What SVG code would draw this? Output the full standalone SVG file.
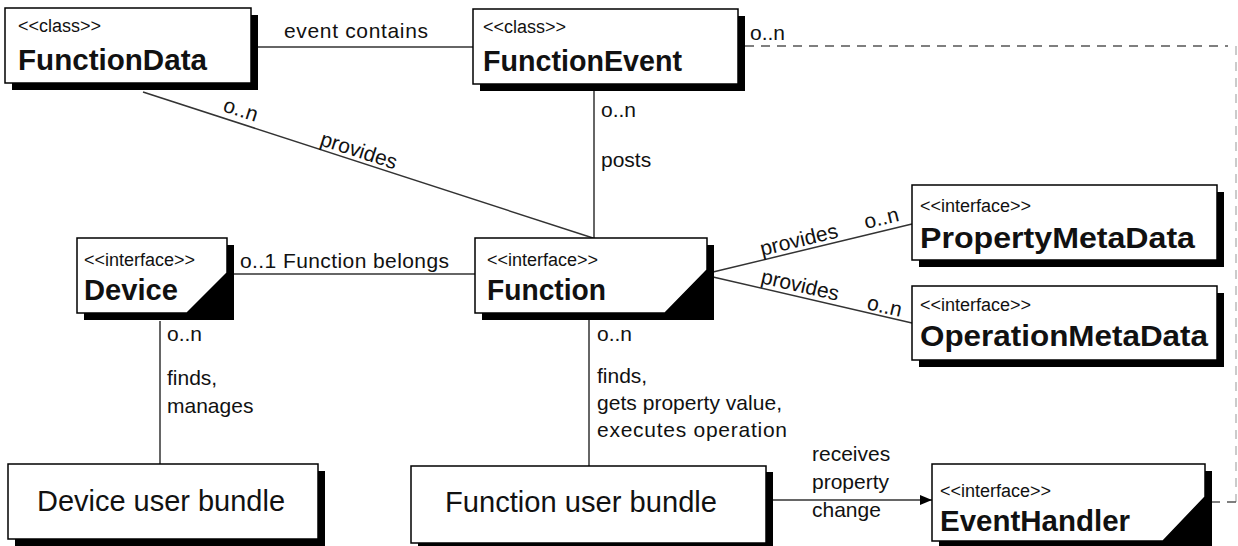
<svg xmlns="http://www.w3.org/2000/svg" width="1238" height="546" viewBox="0 0 1238 546">
<style>
text{font-family:"Liberation Sans",Arial,sans-serif;fill:#111}
.st{font-size:18px}
.nm{font-size:30px;font-weight:bold}
.lb{font-size:21px}
.bd{font-size:30px}
.sh{fill:#000}
.bx{fill:#fff;stroke:#000;stroke-width:1.5}
.ln{stroke:#333;stroke-width:1.5;fill:none}
.ds{stroke:#555;stroke-width:1.5;fill:none;stroke-dasharray:9,7}
.dl{stroke:#bbb;stroke-width:1.5;fill:none;stroke-dasharray:9,7}
</style>
<defs>
<marker id="arr" viewBox="0 0 12 10" refX="12" refY="5" markerWidth="12" markerHeight="10" markerUnits="userSpaceOnUse" orient="auto">
<path d="M0,0 L12,5 L0,10 Z" fill="#000"/>
</marker>
</defs>
<g id="connectors">
<line class="ln" x1="257" y1="47" x2="474" y2="47"/>
<line class="ln" x1="143" y1="92" x2="593" y2="238"/>
<line class="ln" x1="594" y1="91" x2="594" y2="238"/>
<line class="ln" x1="234" y1="274" x2="475" y2="274"/>
<line class="ln" x1="713" y1="272" x2="912" y2="224"/>
<line class="ln" x1="713" y1="277" x2="912" y2="323"/>
<line class="ln" x1="160" y1="321" x2="160" y2="464"/>
<line class="ln" x1="589" y1="320" x2="589" y2="466"/>
<line class="ln" x1="773" y1="500" x2="932" y2="500" marker-end="url(#arr)"/>
<path class="ds" d="M745,46 H1228"/>
<path class="dl" d="M1236,46 V502"/>
<path class="ds" d="M1236,502 H1212"/>
<text class="lb" x="284" y="38" textLength="144">event contains</text>
<text class="lb" x="750" y="40">o..n</text>
<text class="lb" transform="translate(222,111) rotate(17.9)">o..n</text>
<text class="lb" transform="translate(319,145) rotate(17.9)">provides</text>
<text class="lb" x="601" y="117">o..n</text>
<text class="lb" x="601" y="167">posts</text>
<text class="lb" x="240" y="268" textLength="209">o..1 Function belongs</text>
<text class="lb" transform="translate(762,256) rotate(-13.6)">provides</text>
<text class="lb" transform="translate(866,229) rotate(-13.6)">o..n</text>
<text class="lb" transform="translate(760,283) rotate(13)">provides</text>
<text class="lb" transform="translate(866,309) rotate(13)">o..n</text>
<text class="lb" x="167" y="341">o..n</text>
<text class="lb" x="167" y="385">finds,</text>
<text class="lb" x="167" y="413">manages</text>
<text class="lb" x="597" y="341">o..n</text>
<text class="lb" x="597" y="383">finds,</text>
<text class="lb" x="597" y="410" textLength="185">gets property value,</text>
<text class="lb" x="597" y="437" textLength="190">executes operation</text>
<text class="lb" x="812" y="461">receives</text>
<text class="lb" x="812" y="489">property</text>
<text class="lb" x="812" y="517">change</text>
</g>
<g id="FunctionData">
<rect class="sh" x="12" y="15" width="246" height="75"/>
<rect class="bx" x="5" y="8" width="246" height="75"/>
<text class="st" x="18" y="32">&lt;&lt;class&gt;&gt;</text>
<text class="nm" x="18" y="70" textLength="189" lengthAdjust="spacingAndGlyphs">FunctionData</text>
</g>
<g id="FunctionEvent">
<rect class="sh" x="480" y="16" width="265" height="75"/>
<rect class="bx" x="473" y="9" width="265" height="75"/>
<text class="st" x="483" y="33">&lt;&lt;class&gt;&gt;</text>
<text class="nm" x="483" y="71" textLength="199" lengthAdjust="spacingAndGlyphs">FunctionEvent</text>
</g>
<g id="Device">
<rect class="sh" x="84" y="245" width="150" height="75"/>
<path class="bx" d="M77,238 H227 V273 L187,313 H77 Z"/>
<text class="st" x="84" y="266">&lt;&lt;interface&gt;&gt;</text>
<text class="nm" x="84" y="300" textLength="94" lengthAdjust="spacingAndGlyphs">Device</text>
</g>
<g id="Function">
<rect class="sh" x="482" y="245" width="232" height="75"/>
<path class="bx" d="M475,238 H707 V270 L665,313 H475 Z"/>
<text class="st" x="487" y="266">&lt;&lt;interface&gt;&gt;</text>
<text class="nm" x="487" y="300" textLength="119" lengthAdjust="spacingAndGlyphs">Function</text>
</g>
<g id="PropertyMetaData">
<rect class="sh" x="919" y="192" width="305" height="75"/>
<rect class="bx" x="912" y="185" width="305" height="75"/>
<text class="st" x="920" y="212">&lt;&lt;interface&gt;&gt;</text>
<text class="nm" x="920" y="248" textLength="275" lengthAdjust="spacingAndGlyphs">PropertyMetaData</text>
</g>
<g id="OperationMetaData">
<rect class="sh" x="919" y="293" width="305" height="74"/>
<rect class="bx" x="912" y="286" width="305" height="74"/>
<text class="st" x="920" y="311">&lt;&lt;interface&gt;&gt;</text>
<text class="nm" x="920" y="346" textLength="288" lengthAdjust="spacingAndGlyphs">OperationMetaData</text>
</g>
<g id="DeviceUserBundle">
<rect class="sh" x="15" y="471" width="310" height="75"/>
<rect class="bx" x="8" y="464" width="310" height="75"/>
<text class="bd" x="37" y="511" textLength="248" lengthAdjust="spacingAndGlyphs">Device user bundle</text>
</g>
<g id="FunctionUserBundle">
<rect class="sh" x="418" y="472" width="355" height="77"/>
<rect class="bx" x="411" y="466" width="355" height="77"/>
<text class="bd" x="445" y="512" textLength="272" lengthAdjust="spacingAndGlyphs">Function user bundle</text>
</g>
<g id="EventHandler">
<rect class="sh" x="939" y="471" width="273" height="77"/>
<path class="bx" d="M932,464 H1205 V497 L1163,541 H932 Z"/>
<text class="st" x="940" y="497">&lt;&lt;interface&gt;&gt;</text>
<text class="nm" x="940" y="531" textLength="190" lengthAdjust="spacingAndGlyphs">EventHandler</text>
</g>
</svg>
